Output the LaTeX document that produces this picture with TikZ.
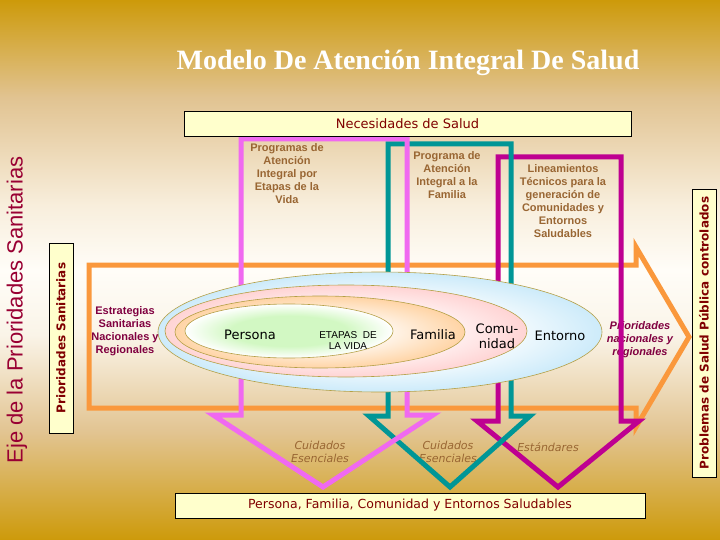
\documentclass[tikz,border=0pt]{standalone}
\usepackage{fontspec}
\usepackage{graphicx}
\setmainfont{DejaVu Sans}
\newfontfamily\arialfam{Liberation Sans}
\newfontfamily\timesfam{Liberation Serif}
\usetikzlibrary{positioning}

\definecolor{gold}{RGB}{205,154,10}
\definecolor{tanA}{RGB}{225,195,145}
\definecolor{tanB}{RGB}{248,238,220}
\definecolor{paleback}{RGB}{255,253,248}
\definecolor{tanC}{RGB}{250,244,232}
\definecolor{tanD}{RGB}{226,196,145}
\definecolor{creambox}{RGB}{255,255,204}
\definecolor{darkred}{RGB}{128,0,0}
\definecolor{wine}{RGB}{128,0,64}
\definecolor{ejered}{RGB}{153,0,51}
\definecolor{brownish}{RGB}{153,102,51}
\definecolor{pinkline}{RGB}{240,105,240}
\definecolor{tealline}{RGB}{0,150,150}
\definecolor{magline}{RGB}{190,0,145}
\definecolor{orangeline}{RGB}{250,152,60}
\definecolor{ringline}{RGB}{180,160,70}
\definecolor{ringblue}{RGB}{205,235,250}
\definecolor{ringpink}{RGB}{255,212,212}
\definecolor{ringpeach}{RGB}{255,212,165}
\definecolor{ringgreen}{RGB}{210,248,195}

\pgfdeclareverticalshading{slideback}{100bp}{color(0bp)=(gold); color(25bp)=(gold); color(35bp)=(tanD); color(44bp)=(tanC); color(50bp)=(paleback); color(56bp)=(tanB); color(66bp)=(tanA); color(75bp)=(gold); color(100bp)=(gold)}
\pgfdeclareradialshading{blueglow}{\pgfpoint{0bp}{0bp}}{color(0bp)=(white); color(12bp)=(white); color(25bp)=(ringblue); color(50bp)=(ringblue)}
\pgfdeclareradialshading{pinkglow}{\pgfpoint{0bp}{0bp}}{color(0bp)=(white); color(10bp)=(white); color(25bp)=(ringpink); color(50bp)=(ringpink)}
\pgfdeclareradialshading{peachglow}{\pgfpoint{0bp}{0bp}}{color(0bp)=(white); color(8bp)=(white); color(25bp)=(ringpeach); color(50bp)=(ringpeach)}
\pgfdeclareradialshading{greenglow}{\pgfpoint{0bp}{0bp}}{color(0bp)=(ringgreen); color(14bp)=(ringgreen); color(25bp)=(white); color(50bp)=(white)}

\begin{document}
\begin{tikzpicture}[x=1pt,y=-1pt,
    heading/.style={font=\timesfam\bfseries\fontsize{28}{30}\selectfont,text=white},
    banner/.style={draw=black,fill=creambox,line width=0.8pt,text=darkred,inner sep=0pt,font=\fontsize{13}{15}\selectfont},
    sidebox/.style={banner,rotate=90,font=\bfseries\fontsize{12}{14}\selectfont},
    prog/.style={font=\arialfam\bfseries\fontsize{11}{13}\selectfont,text=brownish,align=center},
    strat/.style={prog,text=wine},
    ringtext/.style={font=\fontsize{13}{15}\selectfont,align=center},
    goal/.style={font=\itshape\fontsize{11}{13}\selectfont,text=brownish,align=center},
    arrowframe/.style={line width=5pt,miter limit=10},
    ring/.style={draw=ringline,line width=0.6pt}
  ]
  \useasboundingbox (0,0) rectangle (720,540);
  %background
  \shade[shading=slideback] (0,0) rectangle (720,540);

  %title
  \node[heading] (title) at (408,63) {Modelo De\ Atención Integral De Salud};

  %side labels
  \node[rotate=90,text=ejered,font=\arialfam\fontsize{22}{24}\selectfont] (eje) at (17,310) {Eje de la Prioridades Sanitarias};
  \node[sidebox,minimum width=190pt,minimum height=24pt] (prior) at (61,338) {Prioridades Sanitarias};
  \node[sidebox,minimum width=288pt,minimum height=24pt] (probl) at (704,333) {Problemas de Salud Pública controlados};

  %texts under the frames
  \node[strat,font=\arialfam\bfseries\itshape\fontsize{11}{13}\selectfont] (priorreg) at (640,340) {Prioridades\\nacionales y\\regionales};
  \node[goal] (cuid1) at (320,452) {Cuidados\\Esenciales};
  \node[goal] (cuid2) at (448,452) {Cuidados\\Esenciales};
  \node[goal] (estand) at (548,447) {Estándares};

  %orange axis
  \draw[arrowframe,draw=orangeline] (89,265) -- (636,265) -- (636,247) -- (689,337)
    -- (636,427) -- (636,408) -- (89,408) -- cycle;

  %program frames
  \draw[arrowframe,draw=magline] (498,157) -- (621,157) -- (621,421) -- (639,421)
    -- (558,487) -- (477,421) -- (498,421) -- cycle;
  \draw[arrowframe,draw=tealline] (388,144) -- (511,144) -- (511,416) -- (530,416)
    -- (450,487) -- (369,416) -- (388,416) -- cycle;
  \draw[arrowframe,draw=pinkline] (241,139) -- (407,139) -- (407,415) -- (433,415)
    -- (323,487) -- (213,415) -- (241,415) -- cycle;

  %boxes
  \node[banner,minimum width=447pt,minimum height=25pt] (needs) at (407.5,123.5) {Necesidades de Salud};
  \node[banner,minimum width=470pt,minimum height=25pt,font=\fontsize{12.5}{14}\selectfont] (result) at (410,505.5) {Persona, Familia, Comunidad y Entornos Saludables};

  %rings
  \shadedraw[ring,shading=blueglow] (380,332) ellipse [x radius=222,y radius=60];
  \shadedraw[ring,shading=pinkglow] (346,331) ellipse [x radius=181,y radius=46];
  \shadedraw[ring,shading=peachglow] (320,332) ellipse [x radius=145,y radius=36];
  \shadedraw[ring,shading=greenglow] (289,331) ellipse [x radius=104,y radius=27];

  %ring labels
  \node[ringtext] (persona) at (250,335) {Persona};
  \node[font=\arialfam\fontsize{10}{11}\selectfont,align=center] (etapas) at (348,340.5) {ETAPAS\ \ DE\\LA VIDA};
  \node[ringtext] (familia) at (433,335) {Familia};
  \node[ringtext] (comun) at (497,336.5) {Comu-\\nidad};
  \node[ringtext] (entorno) at (560,336) {Entorno};

  %program texts
  \node[prog] (progvida) at (287,174) {Programas de\\Atención\\Integral por\\Etapas de la\\Vida};
  \node[prog] (progfam) at (447,175.5) {Programa de\\Atención\\Integral a la\\Familia};
  \node[prog] (lineam) at (563,201.5) {Lineamientos\\Técnicos para la\\generación de\\Comunidades y\\Entornos\\Saludables};
  \node[strat] (estrat) at (125,331.5) {Estrategias\\Sanitarias\\Nacionales y\\Regionales};
\end{tikzpicture}
\end{document}
